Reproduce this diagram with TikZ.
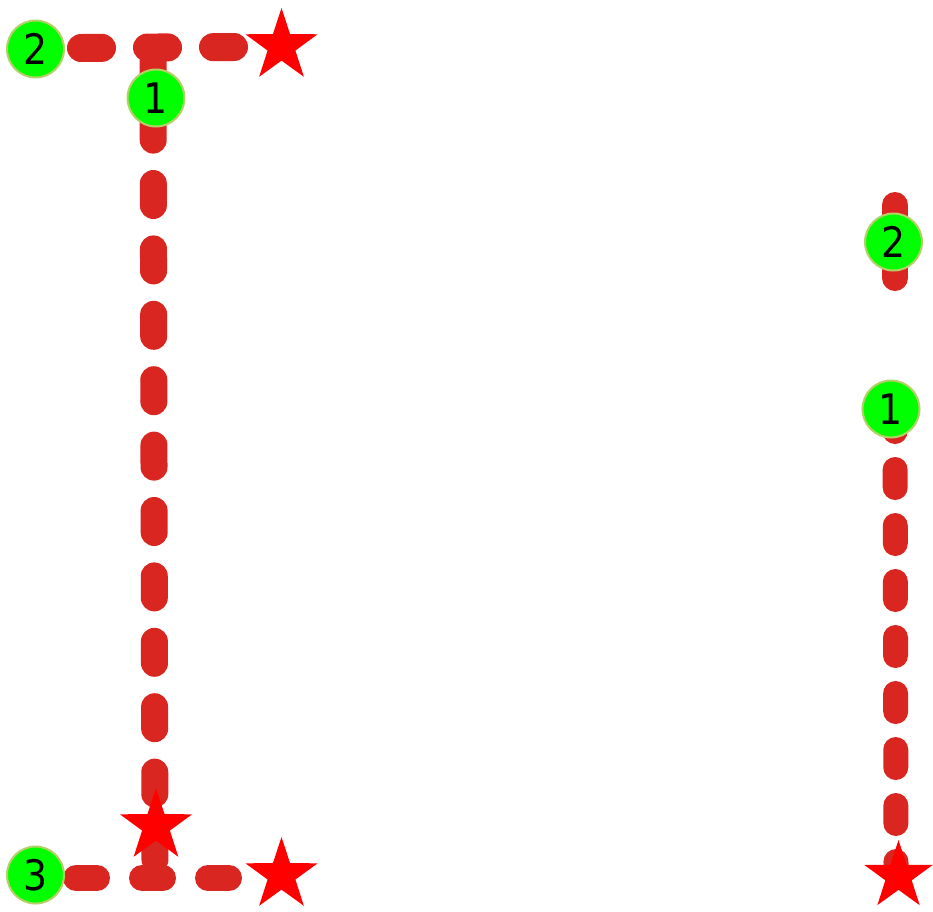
\documentclass[tikz,border=0pt]{standalone}
\usepackage{fontspec}
\newfontfamily\digitfont{DejaVu Sans Condensed}
\usepackage{xcolor}
\usetikzlibrary{shapes.geometric}

\definecolor{brushred}{RGB}{218,38,33}
\definecolor{dotgreen}{RGB}{0,255,0}
\definecolor{dotrim}{RGB}{182,208,104}

\begin{document}
\begin{tikzpicture}[
    x=1pt, y=-1pt,
    brush/.style={draw=brushred, line cap=round},
    numdot/.style={circle, draw=dotrim, line width=2pt, fill=dotgreen, inner sep=0pt,
                   minimum size=57pt, font=\digitfont\fontsize{42}{42}\selectfont},
    endstar/.style={star, star points=5, star point ratio=2.6, fill=red, inner sep=0pt,
                    minimum size=76pt},
  ]
    \useasboundingbox (0,0) rectangle (933,911);

    % left character: strokes
    \draw[brush, line width=27pt, dash pattern=on 22pt off 43.4pt] (153,52.7) -- (155,876);
    \draw[brush, line width=28pt, dash pattern=on 21pt off 45pt] (81,48) -- (234,47);
    \draw[brush, line width=26pt, dash pattern=on 21pt off 45pt] (76,878) -- (232,878);

    % right character: strokes
    \draw[brush, line width=26pt] (895,205) -- (895,278);
    \draw[brush, line width=25pt, dash pattern=on 18pt off 38pt] (895,413.5) -- (896,870);

    % stroke ends
    \node[endstar] (s2) at (281.5,46) {};
    \node[endstar] (s1) at (156,826) {};
    \node[endstar] (s3) at (281.5,875) {};
    \node[endstar, minimum size=72pt] (rs1) at (898.5,876) {};

    % stroke numbers
    \node[numdot] (c2) at (35.5,49) {2};
    \node[numdot] (c1) at (156,98) {1};
    \node[numdot] (c3) at (35.5,875) {3};
    \node[numdot] (r2) at (893.5,242) {2};
    \node[numdot] (r1) at (891,409) {1};
\end{tikzpicture}
\end{document}
